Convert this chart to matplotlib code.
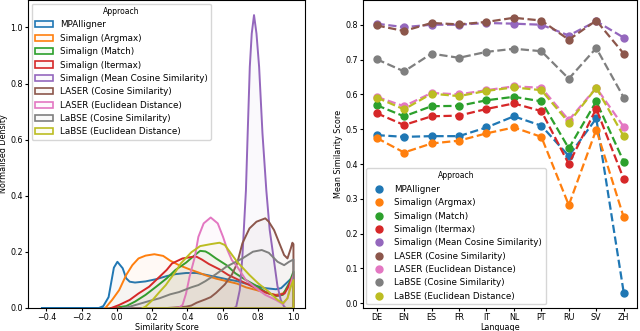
import matplotlib
matplotlib.use("Agg")
import matplotlib.pyplot as plt
from matplotlib.patches import Patch
from matplotlib.lines import Line2D
from matplotlib.colors import to_rgba

approaches = [
    "MPAlligner",
    "Simalign (Argmax)",
    "Simalign (Match)",
    "Simalign (Itermax)",
    "Simalign (Mean Cosine Similarity)",
    "LASER (Cosine Similarity)",
    "LASER (Euclidean Distance)",
    "LaBSE (Cosine Similarity)",
    "LaBSE (Euclidean Distance)",
]
colors = ["tab:blue", "tab:orange", "tab:green", "tab:red", "tab:purple",
          "tab:brown", "tab:pink", "tab:gray", "tab:olive"]

# density curves
mpa_x = [-0.43, -0.11, -0.08, -0.05, -0.02, 0.0, 0.03, 0.05, 0.07, 0.1, 0.16, 0.22, 0.28, 0.33,
         0.39, 0.45, 0.5, 0.56, 0.62, 0.68, 0.73, 0.79, 0.84, 0.9, 0.93, 0.96, 0.985, 1.0]
mpa_y = [0, 0, 0.008, 0.04, 0.145, 0.166, 0.143, 0.107, 0.095, 0.092, 0.096, 0.104, 0.115, 0.122,
         0.126, 0.126, 0.12, 0.112, 0.104, 0.097, 0.088, 0.08, 0.072, 0.068, 0.072, 0.09, 0.105, 0.1]
argmax_x = [-0.07, -0.03, 0.01, 0.05, 0.085, 0.12, 0.16, 0.21, 0.26, 0.3, 0.35, 0.41, 0.46, 0.5,
            0.56, 0.62, 0.68, 0.73, 0.79, 0.84, 0.9, 0.94, 0.975, 1.0]
argmax_y = [0, 0.03, 0.065, 0.119, 0.154, 0.178, 0.188, 0.193, 0.187, 0.17, 0.154, 0.139, 0.128, 0.118,
            0.106, 0.097, 0.088, 0.075, 0.065, 0.056, 0.048, 0.053, 0.077, 0.101]
match_x = [-0.04, 0.05, 0.1, 0.16, 0.22, 0.28, 0.33, 0.39, 0.44, 0.47, 0.5, 0.52, 0.56, 0.62,
           0.67, 0.73, 0.79, 0.84, 0.9, 0.94, 0.975, 1.0]
match_y = [0, 0.008, 0.024, 0.048, 0.077, 0.107, 0.137, 0.163, 0.19, 0.205, 0.203, 0.196, 0.178, 0.154,
           0.125, 0.101, 0.08, 0.059, 0.044, 0.048, 0.089, 0.131]
itermax_x = [-0.04, 0.01, 0.07, 0.12, 0.18, 0.24, 0.28, 0.31, 0.37, 0.43, 0.45, 0.48, 0.52, 0.58,
             0.63, 0.69, 0.75, 0.8, 0.86, 0.91, 0.95, 0.975, 1.0]
itermax_y = [0, 0.012, 0.03, 0.053, 0.077, 0.113, 0.137, 0.16, 0.178, 0.184, 0.184, 0.174, 0.158, 0.139,
             0.119, 0.101, 0.083, 0.068, 0.053, 0.045, 0.053, 0.083, 0.119]
meancos_x = [0.66, 0.675, 0.695, 0.71, 0.72, 0.73, 0.74, 0.752, 0.763, 0.776, 0.79, 0.805, 0.824,
             0.846, 0.865, 0.885, 0.909, 0.928, 0.947, 0.96]
meancos_y = [0, 0.006, 0.065, 0.184, 0.303, 0.42, 0.624, 0.861, 0.98, 1.046, 0.98, 0.861, 0.624,
             0.42, 0.28, 0.19, 0.08, 0.03, 0.006, 0]
lasercos_x = [0.25, 0.33, 0.39, 0.42, 0.45, 0.5, 0.53, 0.56, 0.61, 0.65, 0.68, 0.71, 0.75, 0.79,
              0.84, 0.86, 0.89, 0.92, 0.947, 0.966, 0.985, 0.994, 1.0]
lasercos_y = [0, 0.003, 0.006, 0.01, 0.02, 0.032, 0.04, 0.055, 0.085, 0.12, 0.16, 0.232, 0.285, 0.309,
              0.321, 0.309, 0.279, 0.232, 0.19, 0.178, 0.214, 0.234, 0.229]
lasereuc_x = [0.3, 0.35, 0.37, 0.39, 0.41, 0.44, 0.46, 0.49, 0.53, 0.57, 0.6, 0.625, 0.65, 0.68,
              0.73, 0.79, 0.84, 0.9, 0.94, 0.966, 0.985, 1.0]
lasereuc_y = [0, 0.003, 0.012, 0.053, 0.113, 0.184, 0.255, 0.303, 0.324, 0.303, 0.255, 0.208, 0.172, 0.149,
              0.101, 0.071, 0.048, 0.03, 0.015, 0.036, 0.089, 0.119]
labsecos_x = [0.03, 0.07, 0.12, 0.18, 0.24, 0.3, 0.35, 0.42, 0.46, 0.5, 0.56, 0.62, 0.67, 0.71,
              0.77, 0.82, 0.86, 0.91, 0.947, 0.975, 1.0]
labsecos_y = [0, 0.006, 0.015, 0.026, 0.036, 0.05, 0.058, 0.075, 0.083, 0.097, 0.122, 0.149, 0.165, 0.178,
              0.202, 0.208, 0.198, 0.166, 0.154, 0.166, 0.174]
labseeuc_x = [0.14, 0.16, 0.2, 0.24, 0.275, 0.3, 0.33, 0.36, 0.39, 0.42, 0.47, 0.53, 0.58, 0.61,
              0.645, 0.68, 0.75, 0.8, 0.86, 0.91, 0.94, 0.966, 0.985, 1.0]
labseeuc_y = [0, 0.006, 0.03, 0.059, 0.083, 0.105, 0.13, 0.16, 0.18, 0.2, 0.222, 0.229, 0.234, 0.226,
              0.196, 0.166, 0.119, 0.089, 0.059, 0.03, 0.018, 0.036, 0.077, 0.101]

density_x = [mpa_x, argmax_x, match_x, itermax_x, meancos_x, lasercos_x, lasereuc_x, labsecos_x, labseeuc_x]
density_y = [mpa_y, argmax_y, match_y, itermax_y, meancos_y, lasercos_y, lasereuc_y, labsecos_y, labseeuc_y]

# mean similarity per language, right panel
languages = ["DE", "EN", "ES", "FR", "IT", "NL", "PT", "RU", "SV", "ZH"]
mean_mpa = [0.483, 0.478, 0.480, 0.480, 0.505, 0.537, 0.510, 0.423, 0.531, 0.031]
mean_argmax = [0.475, 0.433, 0.459, 0.467, 0.488, 0.505, 0.478, 0.282, 0.499, 0.247]
mean_match = [0.569, 0.537, 0.566, 0.567, 0.583, 0.593, 0.580, 0.445, 0.580, 0.407]
mean_itermax = [0.546, 0.512, 0.537, 0.539, 0.558, 0.574, 0.552, 0.400, 0.559, 0.357]
mean_meancos = [0.803, 0.793, 0.800, 0.800, 0.805, 0.803, 0.800, 0.769, 0.810, 0.763]
mean_lasercos = [0.798, 0.782, 0.805, 0.801, 0.808, 0.820, 0.812, 0.757, 0.812, 0.717]
mean_lasereuc = [0.593, 0.566, 0.604, 0.600, 0.612, 0.623, 0.619, 0.526, 0.619, 0.507]
mean_labsecos = [0.701, 0.666, 0.717, 0.705, 0.722, 0.731, 0.724, 0.645, 0.733, 0.591]
mean_labseeuc = [0.591, 0.557, 0.602, 0.595, 0.610, 0.620, 0.612, 0.519, 0.619, 0.480]
mean_scores = [mean_mpa, mean_argmax, mean_match, mean_itermax, mean_meancos,
               mean_lasercos, mean_lasereuc, mean_labsecos, mean_labseeuc]

fs = 6.3
lfs = 5.8
plt.rcParams["font.size"] = fs

fig = plt.figure(figsize=(6.4, 3.31), dpi=100)
ax1 = fig.add_axes([0.044, 0.07, 0.433, 0.93])
ax2 = fig.add_axes([0.567, 0.07, 0.429, 0.93])

for xs, ys, c in zip(density_x, density_y, colors):
    ax1.fill_between(xs, ys, facecolor=to_rgba(c, 0.04), edgecolor=c, linewidth=1.4)
ax1.set_xlim(-0.504, 1.07)
ax1.set_ylim(0, 1.098)
ax1.set_xlabel("Similarity Score", fontsize=lfs, labelpad=0.5)
ax1.set_ylabel("Normalised Density", fontsize=lfs, labelpad=1.5)
ax1.tick_params(labelsize=lfs, length=2.5, pad=1.2)
handles1 = [Patch(facecolor=to_rgba(c, 0.04), edgecolor=c, linewidth=1.2) for c in colors]
ax1.legend(handles1, approaches, title="Approach", loc="upper left", fontsize=fs,
           title_fontsize=fs - 0.8, borderaxespad=0.4, labelspacing=0.5)

x_pos = list(range(len(languages)))
for vals, c in zip(mean_scores, colors):
    ax2.plot(x_pos, vals, color=c, linestyle="--", linewidth=1.6, marker="o", markersize=5)
ax2.set_xticks(x_pos)
ax2.set_xticklabels(languages)
ax2.set_xlim(-0.5, 9.5)
ax2.set_ylim(-0.013, 0.871)
ax2.set_yticks([0.0, 0.1, 0.2, 0.3, 0.4, 0.5, 0.6, 0.7, 0.8])
ax2.set_xlabel("Language", fontsize=lfs, labelpad=0.5)
ax2.set_ylabel("Mean Similarity Score", fontsize=lfs, labelpad=1.5)
ax2.tick_params(labelsize=lfs, length=2.5, pad=1.2)
handles2 = [Line2D([], [], color=c, linestyle="", marker="o", markersize=5) for c in colors]
ax2.legend(handles2, approaches, title="Approach", loc="lower left", fontsize=fs,
           title_fontsize=fs - 0.8, borderaxespad=0.4, labelspacing=0.5)

fig.savefig("out.png", dpi=100)
